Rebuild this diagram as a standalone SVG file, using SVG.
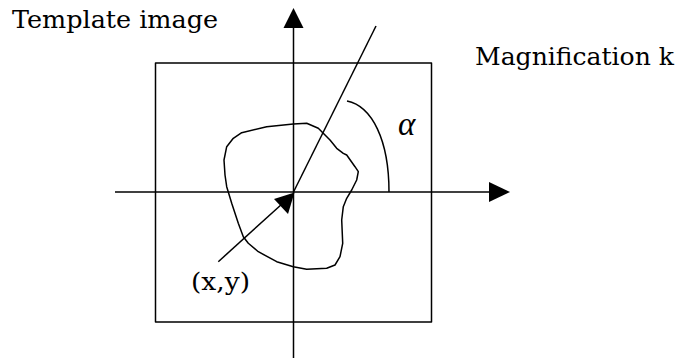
<svg xmlns="http://www.w3.org/2000/svg" width="683" height="361" viewBox="0 0 683 361">
<style>
.ln{fill:none;stroke:#000;stroke-width:1.5;stroke-linejoin:round;stroke-linecap:butt}
.hd{fill:#000;stroke:none}
.t{font-family:"DejaVu Serif","Liberation Serif",serif;font-size:25px;fill:#000}
.a{font-family:"Liberation Serif",serif;font-style:italic;font-size:33px;fill:#000}
</style>
<rect width="683" height="361" fill="#fff"/>
<g id="template-box">
<rect class="ln" x="155.5" y="63" width="276" height="259"/>
</g>
<g id="blob">
<path class="ln" d="M241.7,132.7 L266.7,126.7 L293.3,124 L306.7,123.3 L318.3,128.3 L330,140 L336.7,148.3 L343.3,153.3 L346.7,155 L355,166.7 L358.3,171.7 L356.7,180 L351.7,190 L346.7,198.3 L343.3,206.7 L341.7,220 L342.7,243.3 L340,256.7 L335,265 L326.7,268.3 L306.7,269.3 L293.3,266.7 L276.7,261.7 L258.3,251.7 L248.3,243.3 L243.3,236.7 L238.3,223.3 L231.7,203.3 L226.7,186.7 L225,175 L224,160 L226.7,146.7 L233.3,138.3 Z"/>
</g>
<g id="connectors">
<line class="ln" x1="293.5" y1="26" x2="293.5" y2="358"/>
<polygon class="hd" points="293.5,8 283.5,28 303.5,28"/>
<line class="ln" x1="115" y1="192" x2="492" y2="192"/>
<polygon class="hd" points="510,192 489,182 489,202"/>
<line class="ln" x1="293.5" y1="192" x2="376" y2="26"/>
<line class="ln" x1="218.3" y1="261.7" x2="282" y2="204"/>
<polygon class="hd" points="294.5,192.5 274,199 288,214"/>
<path class="ln" d="M347,101 C372,106 389,140 389,192"/>
</g>
<g id="labels">
<text class="t" x="12" y="28" textLength="206" lengthAdjust="spacingAndGlyphs">Template image</text>
<text class="t" x="475" y="65" textLength="199" lengthAdjust="spacingAndGlyphs">Magnification k</text>
<text class="t" x="191" y="290" textLength="59" lengthAdjust="spacingAndGlyphs">(x,y)</text>
<text class="a" x="398" y="134.5">α</text>
</g>
</svg>
